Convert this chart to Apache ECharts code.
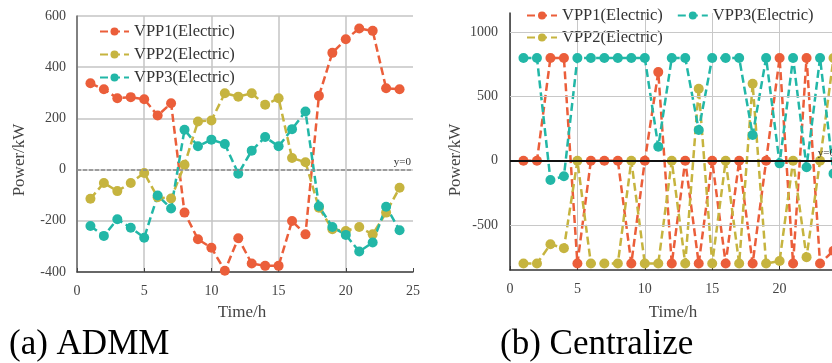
<!DOCTYPE html>
<html><head><meta charset="utf-8">
<script src="https://cdn.jsdelivr.net/npm/echarts@6/dist/echarts.min.js"></script>
<style>html,body{margin:0;padding:0;background:#fff}#c{width:832px;height:363px}</style>
</head><body><div id="c"></div>
<script>
// ---- data ----
const hours = [1,2,3,4,5,6,7,8,9,10,11,12,13,14,15,16,17,18,19,20,21,22,23,24];
const seriesNames = ['VPP1(Electric)', 'VPP2(Electric)', 'VPP3(Electric)'];
// (a) ADMM
const admmVPP1 = [337,314,279,283,275,211,259,-168,-272,-305,-395,-268,-367,-376,-376,-201,-253,288,456,509,551,542,318,314];
const admmVPP2 = [-114,-52,-84,-52,-13,-108,-113,19,188,192,298,285,298,253,279,45,29,-149,-233,-240,-224,-253,-168,-71];
const admmVPP3 = [-220,-259,-194,-227,-266,-101,-152,156,91,117,100,-16,74,127,91,158,227,-143,-224,-255,-320,-285,-145,-237];
// (b) Centralize
const cenVPP1 = [0,0,800,800,-800,0,0,0,-800,0,690,-800,0,-800,0,-800,0,-800,0,800,-800,800,-800,-700];
const cenVPP2 = [-800,-800,-650,-680,0,-800,-800,-800,0,-800,-800,0,-800,560,-800,0,-800,600,-800,-780,0,-750,0,800];
const cenVPP3 = [800,800,-150,-120,800,800,800,800,800,800,110,800,800,240,800,800,800,200,800,-20,800,-50,800,-100];
const yTicksB = [-500,0,500,1000];
const captions = ['(a) ADMM', '(b) Centralize'];

const colors = ['#EB5E3A', '#C6B43F', '#22B7A7'];
const SERIF = '"Liberation Serif", "Times New Roman", serif';

function pairs(vals){ return hours.map((h,i)=>[h, vals[i]]); }

function mkSeries(name, vals, color, gi){
  return {
    name: name, type: 'line', xAxisIndex: gi, yAxisIndex: gi,
    data: pairs(vals), symbol: 'circle', symbolSize: 10, z: 3, clip: false,
    lineStyle: {color: color, width: 2.5, type: [8,4]},
    itemStyle: {color: color}, animation: false
  };
}

const chart = echarts.init(document.getElementById('c'), null, {renderer: 'canvas'});
const axisLabelStyle = {fontFamily: SERIF, fontSize: 14, color: '#444'};

const option = {
  backgroundColor: '#fff',
  animation: false,
  color: colors,
  grid: [
    {left: 77, right: 419, top: 16, bottom: 91, containLabel: false, outerBoundsMode: 'none'},
    {left: 510, right: -15, top: 13, bottom: 93, containLabel: false, outerBoundsMode: 'none'}
  ],
  xAxis: [
    {gridIndex: 0, type: 'value', min: 0, max: 25, interval: 5,
     axisLine: {show: true, onZero: false, lineStyle: {color: '#444', width: 1.5}},
     axisTick: {show: true, inside: true, length: 4, lineStyle: {color: '#444'}},
     axisLabel: Object.assign({margin: 12}, axisLabelStyle),
     splitLine: {show: true, showMaxLine: false, lineStyle: {color: '#c4c4c4', width: 1.5}}},
    {gridIndex: 1, type: 'value', min: 0, max: 25, interval: 5,
     axisLine: {show: true, onZero: false, lineStyle: {color: '#333', width: 1.5}},
     axisTick: {show: true, inside: true, length: 4, lineStyle: {color: '#333'}},
     axisLabel: Object.assign({margin: 12}, axisLabelStyle),
     splitLine: {show: true, showMaxLine: false, lineStyle: {color: '#c8c8c8', width: 1}}}
  ],
  yAxis: [
    {gridIndex: 0, type: 'value', min: -400, max: 600, interval: 200,
     axisLine: {show: true, lineStyle: {color: '#666', width: 1.5}},
     axisTick: {show: false},
     axisLabel: Object.assign({margin: 11}, axisLabelStyle),
     splitLine: {show: true, lineStyle: {color: '#c4c4c4', width: 1.5}}},
    {gridIndex: 1, type: 'value', min: -850, max: 1150, interval: 50,
     axisLine: {show: true, lineStyle: {color: '#333', width: 1.5}},
     axisTick: {show: false},
     axisLabel: Object.assign({margin: 12, formatter: function(v){ return yTicksB.indexOf(v) >= 0 ? String(v) : ''; }}, axisLabelStyle),
     splitLine: {show: false}}
  ],
  legend: [
    {data: seriesNames, orient: 'vertical', left: 94, top: 18, itemWidth: 29, itemHeight: 10, itemGap: 6,
     textStyle: {fontFamily: SERIF, fontSize: 16.5, color: '#333'}},
    {data: [seriesNames[0], seriesNames[2]], orient: 'horizontal', left: 521, top: 2, itemWidth: 30, itemHeight: 10, itemGap: 14,
     textStyle: {fontFamily: SERIF, fontSize: 16.5, color: '#333'}},
    {data: [seriesNames[1]], orient: 'horizontal', left: 521, top: 24, itemWidth: 30, itemHeight: 10,
     textStyle: {fontFamily: SERIF, fontSize: 16.5, color: '#333'}}
  ],
  series: [
    {name: 'gridA', type: 'line', xAxisIndex: 0, yAxisIndex: 0, data: [], z: 1, silent: true,
     markLine: {silent: true, symbol: 'none', animation: false,
       data: [{yAxis: 0}],
       lineStyle: {color: '#8a8a8a', width: 1.5, type: [4,2]},
       label: {show: true, position: 'insideEndTop', formatter: 'y=0', fontFamily: SERIF, fontSize: 11, color: '#333', distance: [2, 2]}}},
    {name: 'gridB', type: 'line', xAxisIndex: 1, yAxisIndex: 1, data: [], z: 1, silent: true,
     markLine: {silent: true, symbol: 'none', animation: false,
       data: [
         {yAxis: 1000, lineStyle: {color: '#c8c8c8', width: 1, type: 'solid'}, label: {show: false}},
         {yAxis: 500, lineStyle: {color: '#c8c8c8', width: 1, type: 'solid'}, label: {show: false}},
         {yAxis: -500, lineStyle: {color: '#c8c8c8', width: 1, type: 'solid'}, label: {show: false}},
         {yAxis: 0, lineStyle: {color: '#111', width: 2, type: 'solid'},
          label: {show: true, position: 'insideEndTop', formatter: 'y=0', fontFamily: SERIF, fontSize: 11, color: '#333', distance: [12, 2]}}
       ]}},
    mkSeries(seriesNames[0], admmVPP1, colors[0], 0),
    mkSeries(seriesNames[1], admmVPP2, colors[1], 0),
    mkSeries(seriesNames[2], admmVPP3, colors[2], 0),
    mkSeries(seriesNames[0], cenVPP1, colors[0], 1),
    mkSeries(seriesNames[1], cenVPP2, colors[1], 1),
    mkSeries(seriesNames[2], cenVPP3, colors[2], 1)
  ],
  graphic: [
    {type: 'text', x: 20, y: 160, rotation: Math.PI/2, style: {text: 'Power/kW', fontFamily: SERIF, fontSize: 17, fill: '#444', align: 'center', verticalAlign: 'middle'}},
    {type: 'text', x: 456, y: 160, rotation: Math.PI/2, style: {text: 'Power/kW', fontFamily: SERIF, fontSize: 17, fill: '#444', align: 'center', verticalAlign: 'middle'}},
    {type: 'text', x: 242, y: 313, style: {text: 'Time/h', fontFamily: SERIF, fontSize: 17, fill: '#444', align: 'center', verticalAlign: 'middle'}},
    {type: 'text', x: 673, y: 313, style: {text: 'Time/h', fontFamily: SERIF, fontSize: 17, fill: '#444', align: 'center', verticalAlign: 'middle'}},
    {type: 'text', x: 9, y: 345, style: {text: captions[0], fontFamily: SERIF, fontSize: 35, fill: '#000', align: 'left', verticalAlign: 'middle'}},
    {type: 'text', x: 500, y: 345, style: {text: captions[1], fontFamily: SERIF, fontSize: 35, fill: '#000', align: 'left', verticalAlign: 'middle'}}
  ]
};
chart.setOption(option);
</script>
</body></html>
